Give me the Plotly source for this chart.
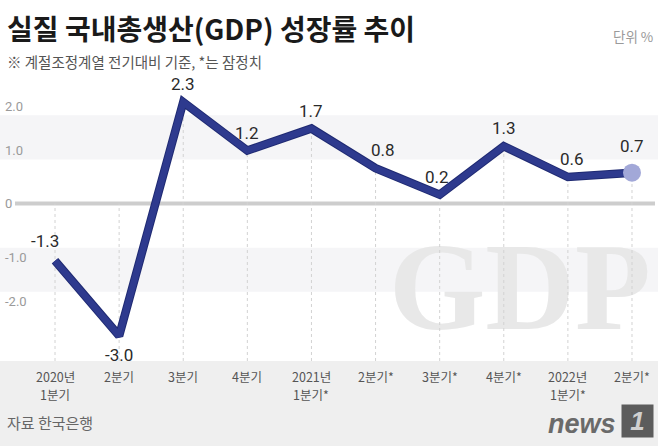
import plotly.graph_objects as go

categories = ["2020년<br>1분기", "2분기", "3분기", "4분기", "2021년<br>1분기*",
              "2분기*", "3분기*", "4분기*", "2022년<br>1분기*", "2분기*"]
growth = [-1.3, -3.0, 2.3, 1.2, 1.7, 0.8, 0.2, 1.3, 0.6, 0.7]
y_ticks = [2.0, 1.0, 0, -1.0, -2.0]
y_tick_text = ["2.0", "1.0", "0", "-1.0", "-2.0"]
bands = [(1, 2), (-2, -1)]

KR = "Noto Sans CJK KR"
NUM = "Roboto"
LINE = "#2e3a8e"

x_idx = list(range(len(categories)))
y_min, y_max = -3.57, 2.80
PT, PB = 80, 361  # plot top / bottom in px


def py(p):
    return (PB - p) / (PB - PT)


fig = go.Figure()

# watermark
fig.add_trace(go.Scatter(
    x=[7.25], y=[-2.15], mode="text", text=["GDP"],
    textfont=dict(family="Liberation Serif", size=124, color="#e8e8e8", weight="bold"),
    textposition="middle center", hoverinfo="skip", showlegend=False))

# dashed verticals
for i, v in zip(x_idx, growth):
    fig.add_trace(go.Scatter(
        x=[i, i], y=[y_min, max(v, 0)], mode="lines",
        line=dict(color="#d2d2d2", width=1, dash="3px,3px"),
        hoverinfo="skip", showlegend=False))

# main line
fig.add_trace(go.Scatter(
    x=x_idx, y=growth, mode="lines",
    line=dict(color="#1f2a72", width=8.5), hoverinfo="skip", showlegend=False))
fig.add_trace(go.Scatter(
    x=x_idx, y=growth, mode="lines",
    line=dict(color=LINE, width=6.5), hoverinfo="skip", showlegend=False))
fig.add_trace(go.Scatter(
    x=[x_idx[-1]], y=[growth[-1]], mode="markers",
    marker=dict(color="#a2a8d8", size=18, line=dict(width=0)),
    hoverinfo="skip", showlegend=False))

shapes = []
shapes.append(dict(type="rect", xref="paper", yref="paper", x0=0, x1=1,
                   y0=py(446), y1=0, fillcolor="#efefef", line=dict(width=0), layer="below"))
for lo, hi in bands:
    shapes.append(dict(type="rect", xref="paper", yref="y", x0=0, x1=1, y0=lo, y1=hi,
                       fillcolor="#f5f5f7", line=dict(width=0), layer="below"))
shapes.append(dict(type="line", xref="paper", yref="y", x0=15 / 658, x1=655 / 658, y0=0, y1=0,
                   line=dict(color="#cdcdcd", width=4), layer="below"))

label_dx = {0: -10, 5: 7, 6: -3, 8: 4}
annotations = []
for i, v in zip(x_idx, growth):
    txt = f"{v:.1f}"
    ys = 18
    if v == min(growth):
        ys = -19
    if i == 0:
        ys = 20
    if i == len(growth) - 1:
        ys = 27
    annotations.append(dict(x=i, y=v, xref="x", yref="y", text=txt, showarrow=False,
                            xshift=label_dx.get(i, 0), yshift=ys,
                            font=dict(family=NUM, size=17, color="#2a2a2a")))
for t, tt in zip(y_ticks, y_tick_text):
    shift = 9 if t > 0 else (0 if t == 0 else -10)
    annotations.append(dict(x=0.004, y=t, xref="paper", yref="y", text=tt, showarrow=False,
                            xanchor="left", yshift=shift,
                            font=dict(family=NUM, size=13, color="#9a9a9a")))
for i, c in zip(x_idx, categories):
    for k, part in enumerate(c.split("<br>")):
        annotations.append(dict(x=i, y=0, xref="x", yref="paper", text=part, showarrow=False,
                                yanchor="top", yshift=-5 - 17.5 * k, align="center", borderpad=0,
                                font=dict(family=KR, size=12.5, color="#555555")))

annotations += [
    dict(x=5 / 658, y=py(28), xref="paper", yref="paper", text="<b>실질 국내총생산(GDP) 성장률 추이</b>",
         showarrow=False, xanchor="left", yanchor="middle",
         font=dict(family=KR, size=28, color="#1a1a1a")),
    dict(x=5 / 658, y=py(61), xref="paper", yref="paper", text="※ 계절조정계열 전기대비 기준, *는 잠정치",
         showarrow=False, xanchor="left", yanchor="middle",
         font=dict(family=KR, size=14.5, color="#555555")),
    dict(x=655 / 658, y=py(36), xref="paper", yref="paper", text="단위 %",
         showarrow=False, xanchor="right", yanchor="middle",
         font=dict(family=KR, size=13.5, color="#9a9a9a")),
    dict(x=5 / 658, y=py(422), xref="paper", yref="paper", text="자료 한국은행",
         showarrow=False, xanchor="left", yanchor="middle",
         font=dict(family=KR, size=15, color="#666666")),
    dict(x=618 / 658, y=py(424), xref="paper", yref="paper", text="<b><i>news</i></b>",
         showarrow=False, xanchor="right", yanchor="middle",
         font=dict(family="Liberation Sans", size=27, color="#6a6a6a")),
    dict(x=621 / 658, y=py(421), xref="paper", yref="paper", text="<b><i> 1 </i></b>",
         showarrow=False, xanchor="left", yanchor="middle", bgcolor="#5c5c5c", borderpad=1,
         font=dict(family="Liberation Sans", size=26, color="#d0d0d0")),
]

fig.update_layout(
    width=658, height=446,
    margin=dict(l=0, r=0, t=PT, b=446 - PB),
    paper_bgcolor="white", plot_bgcolor="white",
    xaxis=dict(range=[-55 / 64.11, 603 / 64.11], visible=False, fixedrange=True),
    yaxis=dict(range=[y_min, y_max], visible=False, fixedrange=True),
    shapes=shapes, annotations=annotations, showlegend=False,
)

fig.write_html("out.html", config={"displayModeBar": False},
               post_script="document.body.style.margin='0';document.body.style.overflow='hidden';")
